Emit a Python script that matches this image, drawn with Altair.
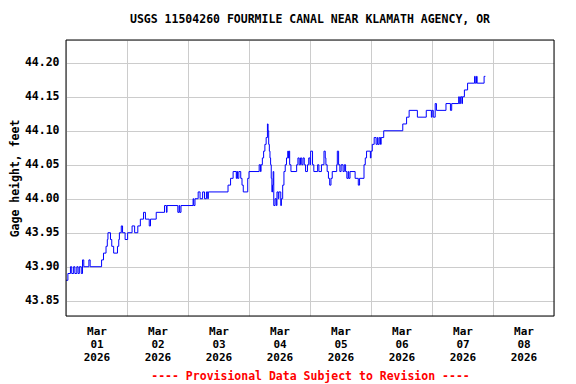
import altair as alt
import pandas as pd

# Hours since 2026-03-01 00:00 at which the gage reading changes, and the new reading (feet)
hours = [0, 0.75, 1.75, 2.25, 3.0, 3.5, 4.25, 4.75, 5.25, 6.0, 6.5, 7.0, 9.0, 9.5,
         14.0, 14.75, 15.75, 16.25, 16.5, 17.5, 18.0, 18.75, 20.25, 20.75, 21.0, 21.75,
         22.25, 23.25, 24.25, 26.0, 27.0, 28.25, 29.25, 30.5, 31.25, 32.75, 33.25, 35.5,
         38.75, 39.5, 39.75, 44.0, 44.5, 44.75, 45.25, 50.0, 50.25, 50.75, 52.0, 52.75,
         53.75, 54.5, 55.25, 55.75, 56.0, 63.75, 64.75, 65.75, 67.0, 67.25, 67.5, 68.0,
         68.75, 69.25, 69.75, 71.5, 72.0, 76.0, 76.5, 76.75, 77.25, 77.75, 78.25, 78.75,
         79.25, 79.5, 79.75, 80.0, 80.25, 80.5, 80.75, 81.0, 81.25, 81.5, 81.75, 82.25,
         82.75, 83.0, 83.5, 83.75, 84.5, 84.75, 85.25, 85.75, 86.25, 86.75, 87.25, 87.5,
         87.75, 88.0, 88.5, 90.75, 91.25, 91.75, 92.25, 92.75, 93.25, 93.75, 94.25, 95.0,
         95.5, 96.0, 96.25, 97.0, 97.5, 99.0, 99.5, 100.5, 101.5, 102.0, 102.25, 102.75,
         103.25, 103.75, 104.25, 104.75, 106.5, 106.75, 107.25, 107.75, 108.25, 109.0,
         109.5, 110.0, 110.5, 111.0, 111.25, 111.75, 113.75, 115.0, 115.5, 117.25, 117.75,
         118.25, 119.75, 120.0, 120.5, 121.25, 122.0, 122.5, 122.75, 123.25, 123.75, 124.0,
         125.0, 132.5, 134.0, 135.0, 138.25, 141.75, 143.75, 144.0, 144.5, 145.25, 145.75,
         149.5, 151.25, 151.75, 154.5, 154.75, 155.25, 155.75, 156.0, 156.75, 158.0,
         160.75, 161.0, 161.5, 161.75, 164.5, 165.0]

gage = [43.88, 43.89, 43.90, 43.89, 43.90, 43.89, 43.90, 43.89, 43.90, 43.89, 43.91, 43.90, 43.91, 43.90,
        43.91, 43.92, 43.93, 43.94, 43.95, 43.94, 43.93, 43.92, 43.93, 43.94, 43.95, 43.96,
        43.95, 43.94, 43.95, 43.96, 43.95, 43.96, 43.97, 43.98, 43.97, 43.96, 43.97, 43.98,
        43.99, 43.98, 43.99, 43.98, 43.99, 43.98, 43.99, 44.00, 43.99, 44.00, 44.01, 44.00,
        44.01, 44.00, 44.01, 44.00, 44.01, 44.02, 44.03, 44.04, 44.03, 44.04, 44.03, 44.04,
        44.03, 44.02, 44.01, 44.03, 44.04, 44.05, 44.04, 44.05, 44.06, 44.07, 44.08, 44.09,
        44.11, 44.10, 44.08, 44.07, 44.06, 44.05, 44.03, 44.01, 44.02, 44.04, 43.99, 44.00,
        43.99, 44.01, 44.00, 44.01, 43.99, 44.00, 44.02, 44.04, 44.05, 44.06, 44.07, 44.06,
        44.07, 44.05, 44.04, 44.05, 44.06, 44.05, 44.06, 44.05, 44.06, 44.05, 44.04, 44.05,
        44.06, 44.05, 44.07, 44.05, 44.04, 44.05, 44.04, 44.05, 44.07, 44.06, 44.05, 44.04,
        44.03, 44.02, 44.03, 44.04, 44.05, 44.07, 44.05, 44.04, 44.05, 44.04,
        44.05, 44.04, 44.03, 44.04, 44.03, 44.04, 44.03, 44.02, 44.03, 44.05, 44.06,
        44.07, 44.06, 44.07, 44.08, 44.09, 44.08, 44.09, 44.08, 44.09, 44.08, 44.09,
        44.10, 44.11, 44.12, 44.13, 44.12, 44.13, 44.12, 44.13, 44.12, 44.14, 44.13,
        44.14, 44.13, 44.14, 44.15, 44.14, 44.15, 44.14, 44.15, 44.16, 44.17,
        44.18, 44.17, 44.18, 44.17, 44.18, 44.18]

y_ticks = [43.85, 43.90, 43.95, 44.00, 44.05, 44.10, 44.15, 44.20]
x_days = [1, 2, 3, 4, 5, 6, 7, 8]

title_text = "USGS 11504260 FOURMILE CANAL NEAR KLAMATH AGENCY, OR"
footer_text = "---- Provisional Data Subject to Revision ----"

t0 = pd.Timestamp("2026-03-01 00:00")
df = pd.DataFrame({
    "time": [(t0 + pd.Timedelta(hours=h)).strftime("%Y-%m-%dT%H:%M:%S") for h in hours],
    "gage": gage,
})

FONT = "DejaVu Sans Mono"
W, H = 488, 276

x_enc = alt.X(
    "time:T",
    scale=alt.Scale(domain=[alt.DateTime(year=2026, month=3, date=1),
                            alt.DateTime(year=2026, month=3, date=9)]),
    axis=alt.Axis(
        values=[alt.DateTime(year=2026, month=3, date=d) for d in x_days],
        labelExpr="[timeFormat(datum.value, '%b'), timeFormat(datum.value, '%d'), timeFormat(datum.value, '%Y')]",
        labelOffset=30.5,
        labelFlush=False,
        labelOverlap=False,
        labelLineHeight=13,
        labelPadding=9,
        labelFont=FONT, labelFontWeight="bold", labelFontSize=11, labelColor="black",
        ticks=False, domain=False,
        grid=True, gridColor="#cccccc", gridWidth=1,
        title=footer_text, titleColor="#ff0000", titleFont=FONT, titleFontWeight="bold",
        titleFontSize=11.5, titlePadding=8,
    ),
)

y_enc = alt.Y(
    "gage:Q",
    scale=alt.Scale(domain=[43.8275, 44.2335], zero=False, nice=False),
    axis=alt.Axis(
        values=y_ticks, format=".2f",
        labelFont=FONT, labelFontWeight="bold", labelFontSize=11.5, labelColor="black",
        labelPadding=7, ticks=False, domain=False,
        grid=True, gridColor="#cccccc", gridWidth=1,
        title="Gage height, feet", titleFont=FONT, titleFontWeight="bold",
        titleFontSize=11.5, titleColor="black", titlePadding=4,
    ),
)

line = (
    alt.Chart(df)
    .mark_line(interpolate="step-after", color="#0000ff", strokeWidth=1)
    .encode(x=x_enc, y=y_enc)
)

frame = (
    alt.Chart(pd.DataFrame({"k": [0]}))
    .mark_rect(fill=None, stroke="black", strokeWidth=1)
    .encode(x=alt.value(0), x2=alt.value(W), y=alt.value(0), y2=alt.value(H))
)

chart = (
    alt.layer(line, frame)
    .properties(
        width=W, height=H,
        title=alt.Title(title_text, font=FONT, fontWeight="bold", fontSize=11.5,
                        anchor="middle", offset=14, color="black"),
        padding={"left": 58, "top": 32, "right": 14, "bottom": 68},
        autosize=alt.AutoSizeParams(type="none"),
    )
    .configure_view(stroke=None)
    .configure(background="white")
)

chart.save("out.html", embed_options={"renderer": "svg", "actions": False})
